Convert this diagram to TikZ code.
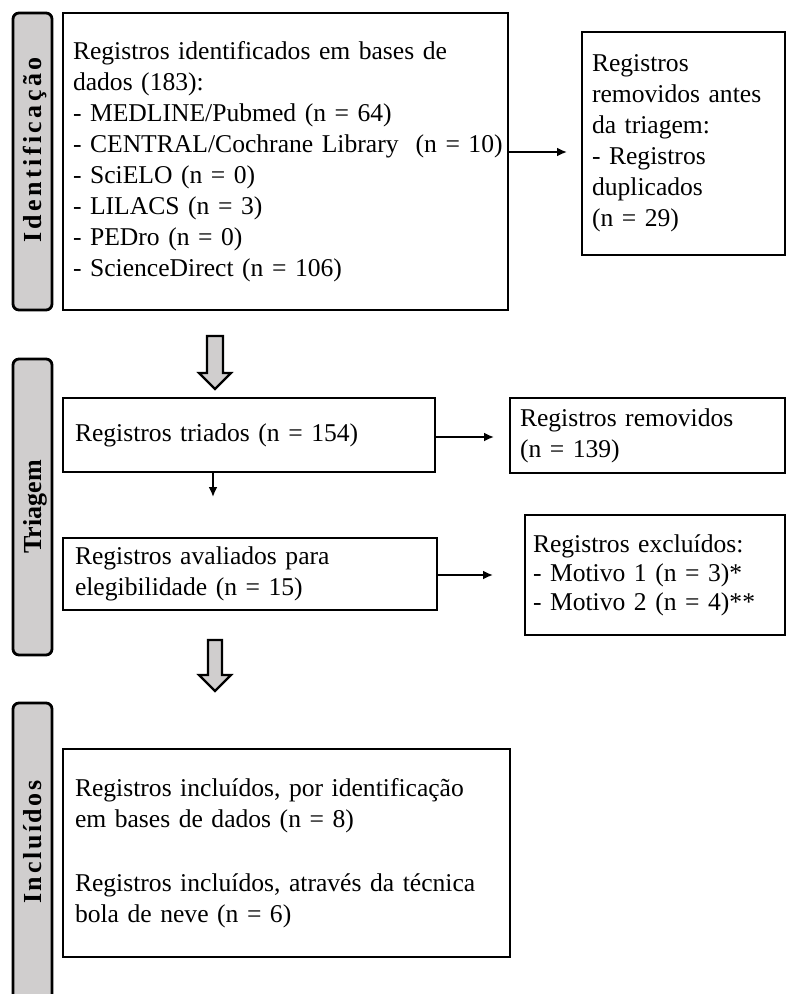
\documentclass[tikz,border=0pt]{standalone}
\usepackage{fontspec}
\setmainfont{Liberation Serif}
\newfontfamily\lblA[LetterSpace=13]{Liberation Serif}
\newfontfamily\lblB[LetterSpace=10]{Liberation Serif}
\newfontfamily\lblC{Liberation Serif}
\usetikzlibrary{arrows.meta}
\definecolor{bargray}{HTML}{D0CECE}
\newcommand{\bodytext}{\fontsize{25.6}{31}\selectfont\fontdimen2\font=5.6pt\relax}
\newcommand{\bodytextb}{\fontsize{25.6}{29}\selectfont\fontdimen2\font=5.6pt\relax}
\begin{document}
\begin{tikzpicture}[x=1pt,y=-1pt,
  box/.style={draw, line width=2.9pt, align=left, inner xsep=10pt, inner ysep=0pt,
    font=\bodytext},
  bar/.style={draw, line width=2.8pt, fill=bargray, rounded corners=6pt, inner sep=0pt},
  lbl/.style={rotate=90, anchor=base, inner sep=0pt},
  arr/.style={line width=1.9pt, -{Latex[length=10pt,width=9pt]}},
  blockarrow/.style={draw, line width=2.2pt, fill=bargray, line join=miter}]
\useasboundingbox (0,0) rectangle (787,994);
\clip (0,0) rectangle (787,994);

% side bars
\node[bar, minimum width=39pt, minimum height=297pt] (barid) at (32.5,161.5) {};
\node[bar, minimum width=39pt, minimum height=296pt] (bartri) at (32.5,507) {};
\node[bar, minimum width=39pt, minimum height=307pt] (barinc) at (32.5,856.5) {};
\node[lbl] (lblid) at (41,150) {\lblA\bfseries\fontsize{26}{31}\selectfont Identificação};
\node[lbl] (lbltri) at (41,507) {\lblC\bfseries\fontsize{26}{31}\selectfont Triagem};
\node[lbl] (lblinc) at (41,842) {\lblB\bfseries\fontsize{26}{31}\selectfont Incluídos};

% boxes
\node[box, text width=425pt, minimum height=297pt] (ident) at (285.5,161.5)
  {Registros identificados em bases de\\
   dados (183):\\
   - MEDLINE/Pubmed (n = 64)\\
   \mbox{- CENTRAL/Cochrane Library~ (n = 10)}\\
   - SciELO (n = 0)\\
   - LILACS (n = 3)\\
   - PEDro (n = 0)\\
   - ScienceDirect (n = 106)};
\node[box, text width=183pt, minimum height=223pt] (dup) at (683.5,143.5)
  {Registros\\
   removidos antes\\
   da triagem:\\
   - Registros\\
   duplicados\\
   (n = 29)};
\node[box, inner xsep=12pt, text width=348pt, minimum height=74pt] (triados) at (249,435)
  {Registros triados (n = 154)};
\node[box, text width=255pt, minimum height=75pt] (removidos) at (647.5,435.5)
  {Registros removidos\\
   (n = 139)};
\node[box, inner xsep=12pt, text width=350pt, minimum height=72pt] (avaliados) at (250,574)
  {Registros avaliados para\\
   elegibilidade (n = 15)};
\node[box, inner xsep=8pt, text width=244pt, minimum height=120pt,
  font=\bodytextb] (excluidos) at (655,575)
  {Registros excluídos:\\
   - Motivo 1 (n = 3)*\\
   - Motivo 2 (n = 4)**};
\node[box, inner xsep=12pt, text width=423pt, minimum height=208pt] (incluidos) at (286.5,853)
  {Registros incluídos, por identificação\\
   em bases de dados (n = 8)\\[33pt]
   Registros incluídos, através da técnica\\
   bola de neve (n = 6)};

% connectors
\coordinate (a1) at (567,152);
\coordinate (a2) at (494,437);
\coordinate (a3) at (493,575);
\coordinate (a4) at (213,497);
\draw[arr] (ident.east |- a1) -- (a1);
\draw[arr] (triados.east |- a2) -- (a2);
\draw[arr] (avaliados.east |- a3) -- (a3);
\draw[arr] (triados.south -| a4) -- (a4);

% block arrows
\draw[blockarrow] (207,336) -- (223,336) -- (223,373) -- (231,373) -- (215,389)
  -- (199,373) -- (207,373) -- cycle;
\draw[blockarrow] (208,640) -- (222,640) -- (222,675) -- (231,675) -- (215,691)
  -- (199,675) -- (208,675) -- cycle;
\end{tikzpicture}
\end{document}
